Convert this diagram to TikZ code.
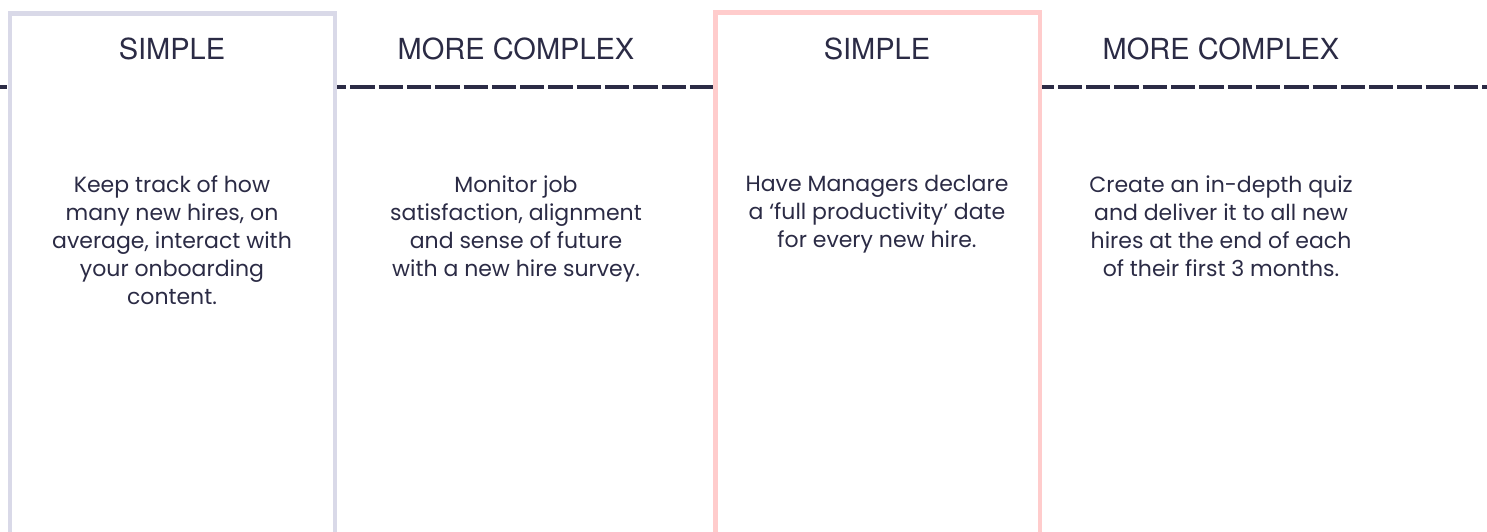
\documentclass[tikz,border=0pt]{standalone}
\usepackage{fontspec}
\setmainfont{Poppins}
\newfontfamily\headfont{TeX Gyre Heros}
\usetikzlibrary{positioning}

\definecolor{ink}{HTML}{2B2B45}
\definecolor{lilac}{HTML}{D9D9E8}
\definecolor{blush}{HTML}{FFCCCC}

\tikzset{
	colbox/.style={line width=4.5pt, fill=white},
	heading/.style={font=\headfont\fontsize{29}{31}\selectfont, text=ink, inner sep=0pt, anchor=base},
	detail/.style={font=\fontsize{22}{28}\selectfont, text=ink, align=center, inner sep=0pt},
	track/.style={draw=ink, line width=4pt, dash pattern=on 24.3pt off 4pt, dash phase=17.6pt}
}

\begin{document}
\begin{tikzpicture}[x=1pt,y=-1pt]
		\clip (0,0) rectangle (1487,531);
		\def\ly{86.5};
		\def\hy{59};
		% the dashed guide line runs behind both columns
		\coordinate (west) at (0,\ly);
		\coordinate (east) at (1487,\ly);
		\draw[track] (west) -- (east);
		\draw[colbox, draw=lilac] (10,13.5) rectangle (335,560);
		\draw[colbox, draw=blush] (715.5,12.5) rectangle (1040,560);
		% headings
		\node[heading] (simpleA) at (172,\hy) {SIMPLE};
		\node[heading] (complexA) at (516,\hy) {MORE COMPLEX};
		\node[heading] (simpleB) at (877,\hy) {SIMPLE};
		\node[heading] (complexB) at (1221,\hy) {MORE COMPLEX};
		% texts under each heading
		\node[detail, below=116.5pt of simpleA.base] (noteA) {Keep track of how\\many new hires, on\\average, interact with\\your onboarding\\content.};
		\node[detail, below=116.5pt of complexA.base] (noteB) {Monitor job\\satisfaction, alignment\\and sense of future\\with a new hire survey.};
		\node[detail, below=116.5pt of simpleB.base] (noteC) {Have Managers declare\\a `full productivity' date\\for every new hire.};
		\node[detail, below=116.5pt of complexB.base] (noteD) {Create an in-depth quiz\\and deliver it to all new\\hires at the end of each\\of their first 3 months.};
	\end{tikzpicture}
\end{document}
